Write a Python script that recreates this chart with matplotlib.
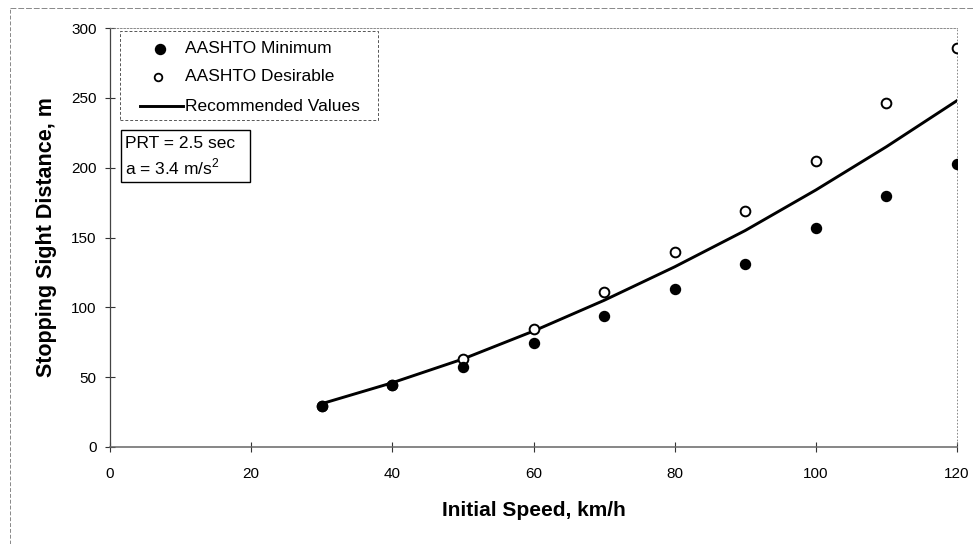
import matplotlib
matplotlib.use("Agg")
import matplotlib.pyplot as plt
from matplotlib.lines import Line2D
from matplotlib.patches import Rectangle

plt.rcParams['font.family'] = ['Liberation Sans', 'DejaVu Sans']
plt.rcParams['mathtext.fontset'] = 'custom'
plt.rcParams['mathtext.rm'] = 'Liberation Sans'

speeds = [30, 40, 50, 60, 70, 80, 90, 100, 110, 120]
aashto_min = [29.6, 44.4, 57.4, 74.3, 94.1, 112.8, 131.2, 157.0, 179.5, 202.9]
aashto_des = [29.6, 44.4, 62.8, 84.6, 110.8, 139.4, 168.7, 205.0, 246.4, 285.6]
recommended = [31, 46, 63, 83, 105, 129, 155, 184, 215, 248]

x_ticks = [0, 20, 40, 60, 80, 100, 120]
y_ticks = [0, 50, 100, 150, 200, 250, 300]
legend_labels = ['AASHTO Minimum', 'AASHTO Desirable', 'Recommended Values']

fig = plt.figure(figsize=(9.74, 5.44), dpi=100)
ax = fig.add_axes([110/974, 1-447/544, 847/974, 419/544])

ax.plot(speeds, recommended, color='black', lw=2.1, zorder=2)
ax.plot(speeds, aashto_des, linestyle='none', marker='o', markersize=7,
        markerfacecolor='white', markeredgecolor='black', markeredgewidth=1.4, zorder=3)
ax.plot(speeds, aashto_min, linestyle='none', marker='o', markersize=7.2,
        markerfacecolor='black', markeredgecolor='black', zorder=4)

ax.set_xlim(0, 120)
ax.set_ylim(0, 300)
ax.set_xticks(x_ticks)
ax.set_yticks(y_ticks)
ax.tick_params(axis='both', direction='inout', length=7, width=0.8, labelsize=11,
               color='#333333')
ax.tick_params(axis='x', pad=11)
ax.tick_params(axis='y', pad=6)

ax.spines['left'].set_linewidth(0.9)
ax.spines['left'].set_color('#444444')
ax.spines['bottom'].set_color('#666666')
ax.spines['bottom'].set_linewidth(1.1)
ax.spines['top'].set_linestyle((0, (2, 2)))
ax.spines['top'].set_linewidth(0.6)
ax.spines['top'].set_color('#777777')
ax.spines['right'].set_linestyle((0, (1, 3)))
ax.spines['right'].set_linewidth(0.6)
ax.spines['right'].set_color('#777777')

ax.set_xlabel('Initial Speed, km/h', fontsize=15, fontweight='bold', labelpad=14)
ax.set_ylabel('Stopping Sight Distance, m', fontsize=15.5, fontweight='bold', labelpad=10)

# legend drawn in axes coordinates
T = ax.transAxes
ax.add_patch(Rectangle((0.0118, 0.7804), 0.3046, 0.2124, transform=T, facecolor='white',
                       edgecolor='#555555', lw=0.7, linestyle=(0, (3, 2)), zorder=5))
rows_y = [0.9499, 0.8831, 0.8138]
ax.add_line(Line2D([0.059], [rows_y[0]], transform=T, marker='o', markersize=7.2,
                   color='black', linestyle='none', zorder=6))
ax.add_line(Line2D([0.0567], [rows_y[1]], transform=T, marker='o', markersize=5.5,
                   markerfacecolor='white', markeredgecolor='black', markeredgewidth=1.3,
                   linestyle='none', zorder=6))
ax.add_line(Line2D([0.0354, 0.0862], [rows_y[2], rows_y[2]], transform=T, color='black',
                   lw=2.1, zorder=6))
for lab, yy in zip(legend_labels, rows_y):
    ax.text(0.0885, yy, lab, transform=T, fontsize=12.5, va='center', ha='left', zorder=7)

ax.add_patch(Rectangle((0.013, 0.6325), 0.1523, 0.1241, transform=T, facecolor='white',
                       edgecolor='black', lw=1.0, zorder=5))
ax.text(0.0177, 0.7255, 'PRT = 2.5 sec', transform=T, fontsize=12.5, va='center',
        ha='left', zorder=7)
ax.text(0.0177, 0.6683, 'a = 3.4 m/s$^\\mathregular{2}$', transform=T, fontsize=12.5,
        va='center', ha='left', zorder=7)

# outer frame lines (page border)
fig.add_artist(Line2D([10/974, 10/974], [0, 1-8/544], transform=fig.transFigure,
                      color='#888888', lw=0.7, linestyle=(0, (4, 2))))
fig.add_artist(Line2D([10/974, 1], [1-8/544, 1-8/544], transform=fig.transFigure,
                      color='#888888', lw=0.7, linestyle=(0, (6, 2))))

fig.savefig('out.png', dpi=100)
